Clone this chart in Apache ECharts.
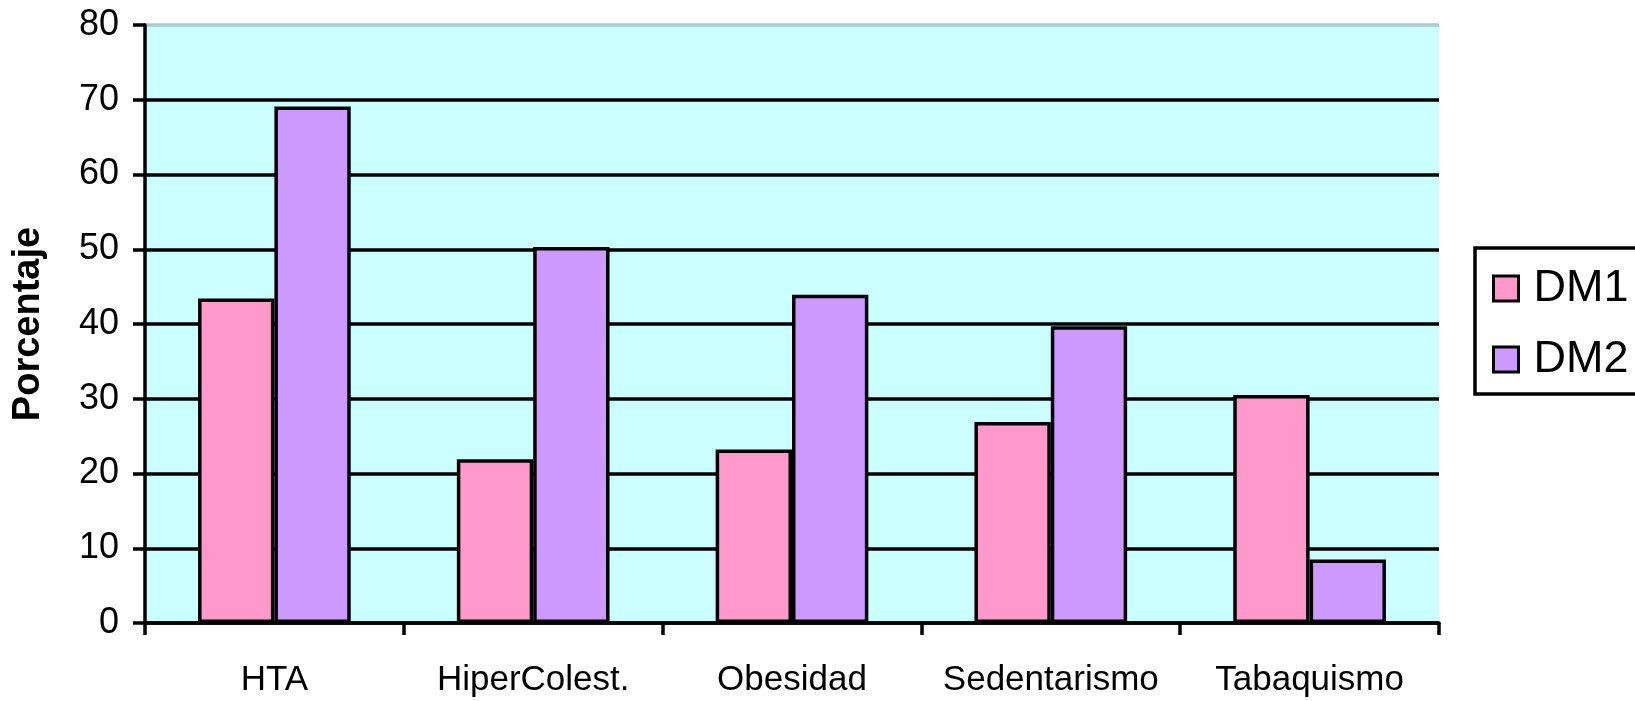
<!DOCTYPE html>
<html lang="es">
<head>
<meta charset="UTF-8">
<title>Porcentaje DM1 / DM2</title>
<style>
  html, body { margin: 0; padding: 0; background: #fff; }
  #container { width: 1635px; height: 701px; }
</style>
</head>
<body>
<div id="container"></div>
<script src="https://cdn.jsdelivr.net/npm/echarts@6/dist/echarts.min.js"></script>
<script>
  // datos
  var categorias = ['HTA', 'HiperColest.', 'Obesidad', 'Sedentarismo', 'Tabaquismo'];
  var dm1 = [43.4, 21.9, 23.2, 26.9, 30.5];
  var dm2 = [69.1, 50.3, 43.9, 39.7, 8.5];
  var series_nombres = ['DM1', 'DM2'];

  var chart = echarts.init(document.getElementById('container'));
  var fuente = 'Liberation Sans, Arial, sans-serif';
  var grosor = 3.5;

  var option = {
    backgroundColor: '#fff',
    animation: false,
    color: ['#FF99CC', '#CC99FF'],
    grid: {
      left: 145,
      right: 196,
      top: 25,
      bottom: 78,
      show: true,
      backgroundColor: '#CCFFFF',
      borderWidth: 0
    },
    legend: {
      orient: 'vertical',
      left: 1475,
      top: 248,
      data: series_nombres,
      backgroundColor: '#fff',
      borderColor: '#000',
      borderWidth: grosor,
      borderRadius: 0,
      padding: [18, 10, 12, 17],
      itemWidth: 25,
      itemHeight: 25,
      itemGap: 26,
      icon: 'rect',
      itemStyle: { borderColor: '#000', borderWidth: 3 },
      textStyle: { fontFamily: fuente, fontSize: 45, color: '#000', padding: [0, 0, 0, 10] }
    },
    xAxis: {
      type: 'category',
      data: categorias,
      axisLine: { lineStyle: { color: '#000', width: grosor } },
      axisTick: { show: true, length: 12, lineStyle: { color: '#000', width: grosor } },
      axisLabel: { interval: 0, fontFamily: fuente, fontSize: 35, color: '#000', margin: 40 },
      splitLine: { show: false }
    },
    yAxis: {
      type: 'value',
      min: 0,
      max: 80,
      interval: 10,
      name: 'Porcentaje',
      nameLocation: 'middle',
      nameGap: 97,
      nameTextStyle: { fontFamily: fuente, fontSize: 38, fontWeight: 'bold', color: '#000' },
      axisLine: { show: true, lineStyle: { color: '#000', width: grosor } },
      axisTick: { show: true, length: 12, lineStyle: { color: '#000', width: grosor } },
      axisLabel: { fontFamily: fuente, fontSize: 36, color: '#000', margin: 26 },
      splitLine: {
        show: true,
        lineStyle: {
          width: grosor,
          color: ['#000', '#000', '#000', '#000', '#000', '#000', '#000', '#000', '#a8cccc']
        }
      }
    },
    series: [{
      name: 'DM1',
      type: 'bar',
      data: dm1,
      barGap: '0%',
      barCategoryGap: '41%',
      itemStyle: { borderColor: '#000', borderWidth: grosor }
    }, {
      name: 'DM2',
      type: 'bar',
      data: dm2,
      barGap: '0%',
      barCategoryGap: '41%',
      itemStyle: { borderColor: '#000', borderWidth: grosor }
    }]
  };
  chart.setOption(option);
</script>
</body>
</html>
